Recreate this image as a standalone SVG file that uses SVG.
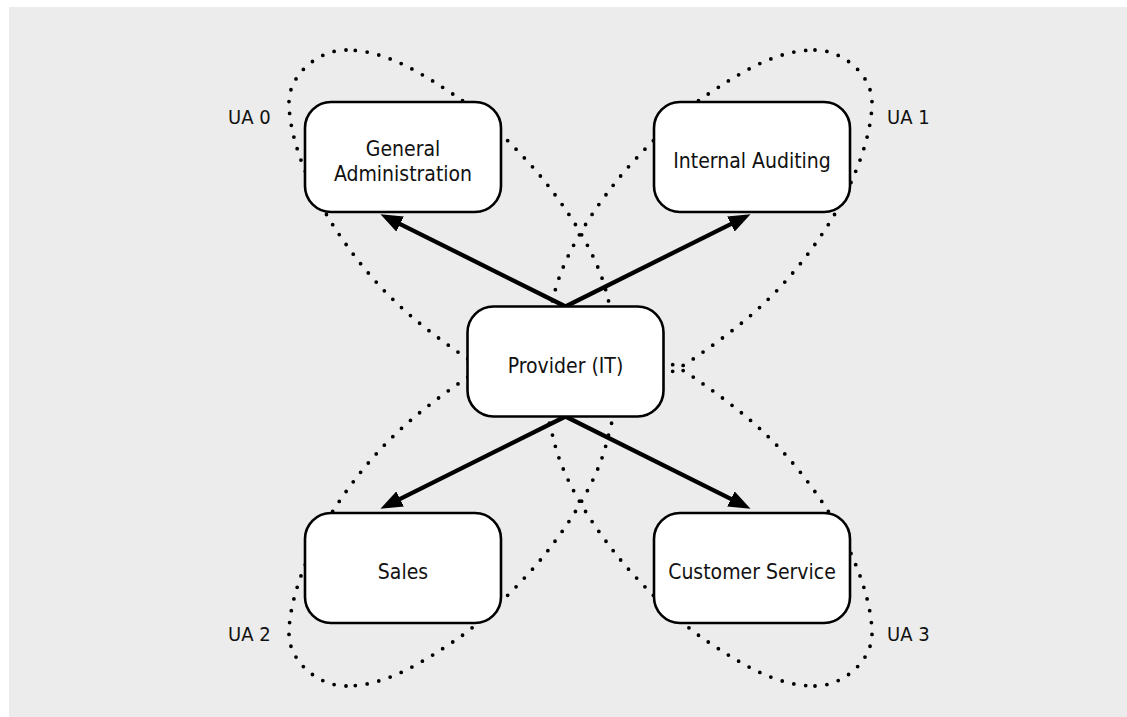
<svg xmlns="http://www.w3.org/2000/svg" width="1127" height="717" viewBox="0 0 1127 717">
<style>
.bg{fill:#ebeceb}
.node rect{fill:#ffffff;stroke:#000;stroke-width:2.6}
.lbl{font-family:"DejaVu Sans Condensed","DejaVu Sans",sans-serif;font-size:21px;fill:#111;text-anchor:middle}
.ua{font-family:"DejaVu Sans Condensed","DejaVu Sans",sans-serif;font-size:20px;fill:#111}
.loop{fill:none;stroke:#000;stroke-width:3.8;stroke-linecap:round;stroke-dasharray:0 12}
.conn line{stroke:#000;stroke-width:4.3;fill:none}
</style>
<defs>
<path id="uaLoop" class="loop" d="M346,50 C318,50 289,75 289,102 C289,140 311,190 331,222 C376,293 420,325.5 465,357 C520,396 600,410 615,360 C620,340 612,315 607,295 C600,265 580,225 542,178 C525,157 485,116 457.7,97.3 C420,72 385,50 346,50 Z"/>
<marker id="ah" viewBox="0 0 22 17" refX="0.5" refY="8.5" markerWidth="22" markerHeight="17" markerUnits="userSpaceOnUse" orient="auto">
<path d="M0,0 L22,8.5 L0,17 z" fill="#000"/>
</marker>
</defs>
<rect class="bg" x="9" y="7" width="1118" height="710"/>
<g id="user-areas">
<use id="ua0-loop" href="#uaLoop"/>
<use id="ua1-loop" href="#uaLoop" transform="translate(1161,0) scale(-1,1)"/>
<use id="ua2-loop" href="#uaLoop" transform="translate(0,736) scale(1,-1)"/>
<use id="ua3-loop" href="#uaLoop" transform="translate(1161,736) scale(-1,-1)"/>
<text class="ua" x="228" y="124">UA 0</text>
<text class="ua" x="887" y="124">UA 1</text>
<text class="ua" x="228" y="641">UA 2</text>
<text class="ua" x="887" y="641">UA 3</text>
</g>
<g id="connectors" class="conn">
<line x1="565.5" y1="306.5" x2="399.7" y2="223.8" marker-end="url(#ah)"/>
<line x1="565.5" y1="306.5" x2="731.3" y2="223.8" marker-end="url(#ah)"/>
<line x1="565.5" y1="416.5" x2="399.7" y2="499.2" marker-end="url(#ah)"/>
<line x1="565.5" y1="416.5" x2="731.3" y2="499.2" marker-end="url(#ah)"/>
</g>
<g id="general-administration" class="node">
<rect x="305" y="102" width="196" height="110" rx="26"/>
<text class="lbl" x="403" y="156">General</text>
<text class="lbl" x="403" y="180.5">Administration</text>
</g>
<g id="internal-auditing" class="node">
<rect x="654" y="102" width="196" height="110" rx="26"/>
<text class="lbl" x="752" y="167.5">Internal Auditing</text>
</g>
<g id="provider-it" class="node">
<rect x="467.5" y="306.5" width="196" height="110" rx="26"/>
<text class="lbl" x="565.5" y="373">Provider (IT)</text>
</g>
<g id="sales" class="node">
<rect x="305" y="513" width="196" height="110" rx="26"/>
<text class="lbl" x="403" y="579">Sales</text>
</g>
<g id="customer-service" class="node">
<rect x="654" y="513" width="196" height="110" rx="26"/>
<text class="lbl" x="752" y="579">Customer Service</text>
</g>
</svg>
